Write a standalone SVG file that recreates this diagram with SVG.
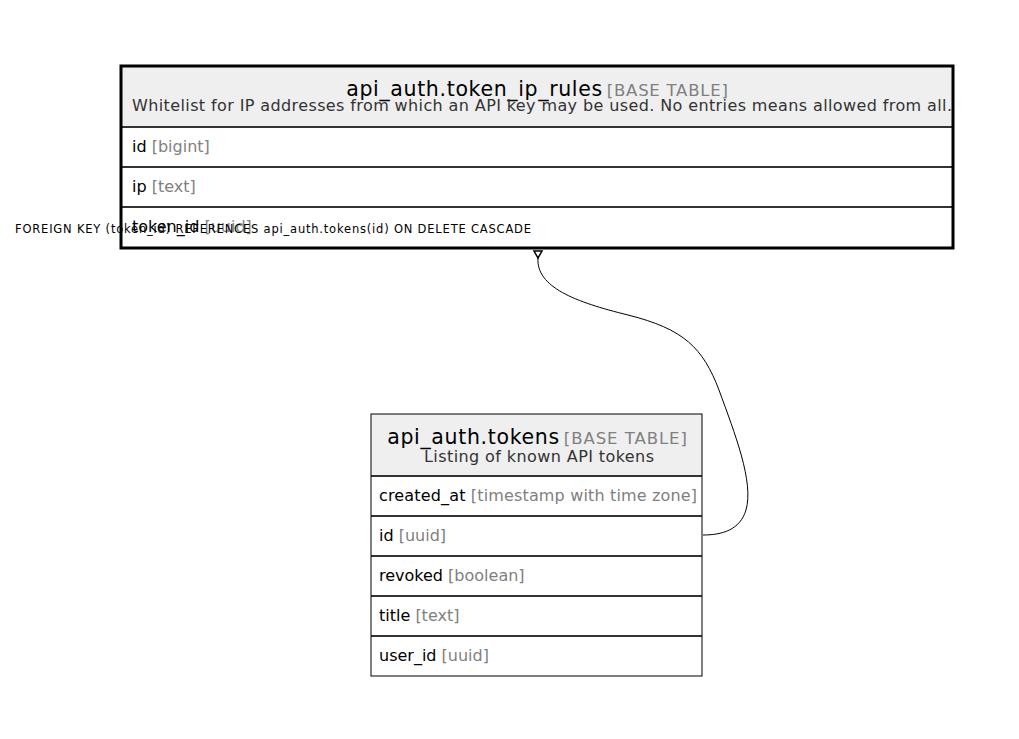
<svg xmlns="http://www.w3.org/2000/svg" width="1019" height="739" viewBox="0 0 1019 739">
<style>
text{font-family:"DejaVu Sans","Noto Sans",sans-serif;}
.hdr{fill:#efefef;}
.title{font-size:20.5px;fill:#000;}
.tag{font-size:16.5px;fill:#808080;}
.desc{font-size:16px;fill:#333;}
.col{font-size:16px;fill:#000;}
.typ{fill:#808080;}
.sep{stroke:#333;stroke-width:2;}
.fk{font-size:11.5px;fill:#000;}
</style>
<rect width="1019" height="739" fill="#fff"/>
<g id="connectors">
<path d="M538,258 C536,287 575,302 628,315 C684,329 703,348 719,390 C735,434 754,482 746,510 C740,530 722,535 703,535" fill="none" stroke="#000" stroke-width="1"/>
<polygon points="534,251 542,251 538,258" fill="#fff" stroke="#000" stroke-width="1.5"/>
</g>
<g id="api_auth.token_ip_rules">
<rect x="121" y="66" width="832" height="182" fill="#fff"/>
<rect x="121" y="66" width="832" height="61" class="hdr"/>
<text x="537" y="96" text-anchor="middle"><tspan class="title" textLength="256">api_auth.token_ip_rules</tspan><tspan class="tag" dx="4" textLength="121">[BASE TABLE]</tspan></text>
<text x="132" y="111" class="desc" textLength="820">Whitelist for IP addresses from which an API key may be used. No entries means allowed from all.</text>
<line x1="121" y1="127" x2="953" y2="127" class="sep"/>
<line x1="121" y1="167" x2="953" y2="167" class="sep"/>
<line x1="121" y1="207" x2="953" y2="207" class="sep"/>
<text x="132" y="152" class="col">id <tspan class="typ">[bigint]</tspan></text>
<text x="132" y="192" class="col">ip <tspan class="typ">[text]</tspan></text>
<text x="132" y="232" class="col">token_id <tspan class="typ">[uuid]</tspan></text>
<rect x="121" y="66" width="832" height="182" fill="none" stroke="#000" stroke-width="3"/>
</g>
<g id="api_auth.tokens">
<rect x="371" y="414" width="331" height="262" fill="#fff"/>
<rect x="371" y="414" width="331" height="62" class="hdr"/>
<text x="537" y="444" text-anchor="middle"><tspan class="title" textLength="172">api_auth.tokens</tspan><tspan class="tag" dx="4" textLength="123">[BASE TABLE]</tspan></text>
<text x="539" y="462" text-anchor="middle" class="desc" textLength="230">Listing of known API tokens</text>
<line x1="371" y1="476" x2="702" y2="476" class="sep"/>
<line x1="371" y1="516" x2="702" y2="516" class="sep"/>
<line x1="371" y1="556" x2="702" y2="556" class="sep"/>
<line x1="371" y1="596" x2="702" y2="596" class="sep"/>
<line x1="371" y1="636" x2="702" y2="636" class="sep"/>
<text x="379" y="501" class="col" textLength="318">created_at <tspan class="typ">[timestamp with time zone]</tspan></text>
<text x="379" y="541" class="col">id <tspan class="typ">[uuid]</tspan></text>
<text x="379" y="581" class="col">revoked <tspan class="typ">[boolean]</tspan></text>
<text x="379" y="621" class="col">title <tspan class="typ">[text]</tspan></text>
<text x="379" y="661" class="col">user_id <tspan class="typ">[uuid]</tspan></text>
<rect x="371" y="414" width="331" height="262" fill="none" stroke="#000" stroke-width="1"/>
</g>
<text x="15" y="233" class="fk" textLength="516">FOREIGN KEY (token_id) REFERENCES api_auth.tokens(id) ON DELETE CASCADE</text>
</svg>
